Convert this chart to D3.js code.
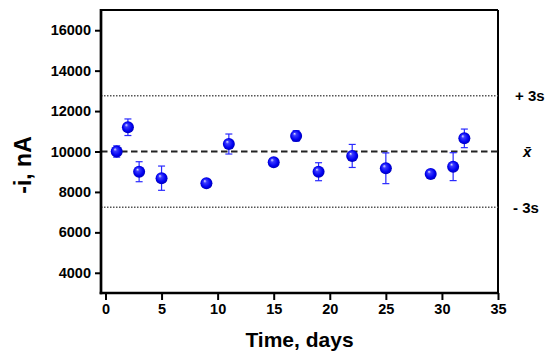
<!DOCTYPE html><html><head>
<title>Stability over time</title>
<style>
  body { margin: 0; background: #fff; }
  text { font-family: "Liberation Sans", Arial, sans-serif; font-weight: bold; }
</style>
</head>
<body>
<svg width="550" height="356"></svg>
<script src="https://d3js.org/d3.v7.min.js"></script>
<script>
// measured days and current
var days   = [1, 2, 3, 5, 9, 11, 15, 17, 19, 22, 25, 29, 31, 32];
var values = [10000, 11200, 9000, 8680, 8430, 10370, 9470, 10770, 9000, 9780, 9170, 8890, 9250, 10650];
var errs   = [280, 410, 495, 600, 150, 495, 150, 260, 445, 570, 760, 150, 690, 460];

var meanVal = 10000;
var upper = 12760, lower = 7240;
var xTicks = [0, 5, 10, 15, 20, 25, 30, 35];
var yTicks = [4000, 6000, 8000, 10000, 12000, 14000, 16000];

var svg = d3.select('svg');
var pLeft = 101, pRight = 498, pTop = 10, pBottom = 293;

var x = d3.scaleLinear().domain([-0.4, 35]).range([pLeft, pRight]);
var y = d3.scaleLinear().domain([3000, 17000]).range([pBottom, pTop]);

// sphere look
var defs = svg.append('defs');
var grad = defs.append('radialGradient').attr('id', 'ball')
  .attr('cx', '50%').attr('cy', '50%').attr('r', '55%')
  .attr('fx', '35%').attr('fy', '30%');
grad.append('stop').attr('offset', '0%').attr('stop-color', '#e8e8ff');
grad.append('stop').attr('offset', '25%').attr('stop-color', '#3a3aff');
grad.append('stop').attr('offset', '70%').attr('stop-color', '#0000f0');
grad.append('stop').attr('offset', '100%').attr('stop-color', '#0000a8');

// frame top/right
svg.append('line').attr('x1', pLeft).attr('x2', pRight).attr('y1', pTop).attr('y2', pTop)
  .attr('stroke', 'black').attr('stroke-width', 2);
svg.append('line').attr('x1', pRight).attr('x2', pRight).attr('y1', pTop).attr('y2', pBottom)
  .attr('stroke', 'black').attr('stroke-width', 2);

// reference lines
svg.append('line').attr('x1', pLeft).attr('x2', pRight).attr('y1', y(upper)).attr('y2', y(upper))
  .attr('stroke', '#555').attr('stroke-width', 1.4).attr('stroke-dasharray', '1.5,1.5');
svg.append('line').attr('x1', pLeft).attr('x2', pRight).attr('y1', y(lower)).attr('y2', y(lower))
  .attr('stroke', '#555').attr('stroke-width', 1.4).attr('stroke-dasharray', '1.5,1.5');
svg.append('line').attr('x1', pLeft).attr('x2', pRight).attr('y1', y(meanVal)).attr('y2', y(meanVal))
  .attr('stroke', '#222').attr('stroke-width', 2).attr('stroke-dasharray', '6.5,3.5');

// axes
var yAxis = d3.axisLeft(y).tickValues(yTicks).tickSize(6).tickPadding(4).tickSizeOuter(0)
  .tickFormat(d3.format('d'));
var gy = svg.append('g').attr('transform', 'translate(' + pLeft + ',0)').call(yAxis);
var xAxis = d3.axisBottom(x).tickValues(xTicks).tickSize(7).tickPadding(4).tickSizeOuter(0);
var gx = svg.append('g').attr('transform', 'translate(0,' + pBottom + ')').call(xAxis);

[gx, gy].forEach(function(g) {
  g.attr('font-size', 14).attr('font-family', '"Liberation Sans", Arial, sans-serif');
  g.select('.domain').attr('stroke', 'black').attr('stroke-width', 2.7);
  g.selectAll('.tick line').attr('stroke', 'black').attr('stroke-width', 2);
  g.selectAll('.tick text').attr('fill', 'black')
    .style('font-size', '14.5px').style('font-weight', 'bold');
});
gx.select('.domain').attr('d', 'M' + (pLeft - 1.3) + ',0H' + (pRight + 1));
gy.select('.domain').attr('d', 'M0,' + (pBottom + 1.3) + 'V' + (pTop - 1));

// error bars
var eb = svg.append('g').selectAll('g').data(days).enter().append('g')
  .attr('stroke', '#2a2aff').attr('stroke-width', 1.2);
eb.append('line')
  .attr('x1', function(d) { return x(d); }).attr('x2', function(d) { return x(d); })
  .attr('y1', function(d, i) { return y(values[i] + errs[i]); })
  .attr('y2', function(d, i) { return y(values[i] - errs[i]); });
eb.append('line')
  .attr('x1', function(d) { return x(d) - 3.5; }).attr('x2', function(d) { return x(d) + 3.5; })
  .attr('y1', function(d, i) { return y(values[i] + errs[i]); })
  .attr('y2', function(d, i) { return y(values[i] + errs[i]); });
eb.append('line')
  .attr('x1', function(d) { return x(d) - 3.5; }).attr('x2', function(d) { return x(d) + 3.5; })
  .attr('y1', function(d, i) { return y(values[i] - errs[i]); })
  .attr('y2', function(d, i) { return y(values[i] - errs[i]); });

// points
svg.append('g').selectAll('circle').data(days).enter().append('circle')
  .attr('cx', function(d) { return x(d); })
  .attr('cy', function(d, i) { return y(values[i]); })
  .attr('r', 6)
  .attr('fill', 'url(#ball)');

// labels
svg.append('text').attr('x', (pLeft + pRight) / 2).attr('y', 347)
  .attr('text-anchor', 'middle').style('font-size', '21px').text('Time, days');
svg.append('text').attr('transform', 'translate(31,165) rotate(-90)')
  .attr('text-anchor', 'middle').style('font-size', '23px').text('-i, nA');

svg.append('text').attr('x', 515).attr('y', y(upper) + 5.5).style('font-size', '15px').text('+ 3s');
svg.append('text').attr('x', 523).attr('y', y(meanVal) + 5.5).style('font-size', '15px')
  .style('font-style', 'italic').text('x\u0304');
svg.append('text').attr('x', 513).attr('y', y(lower) + 5.5).style('font-size', '15px').text('- 3s');
</script>
</body>
</html>
